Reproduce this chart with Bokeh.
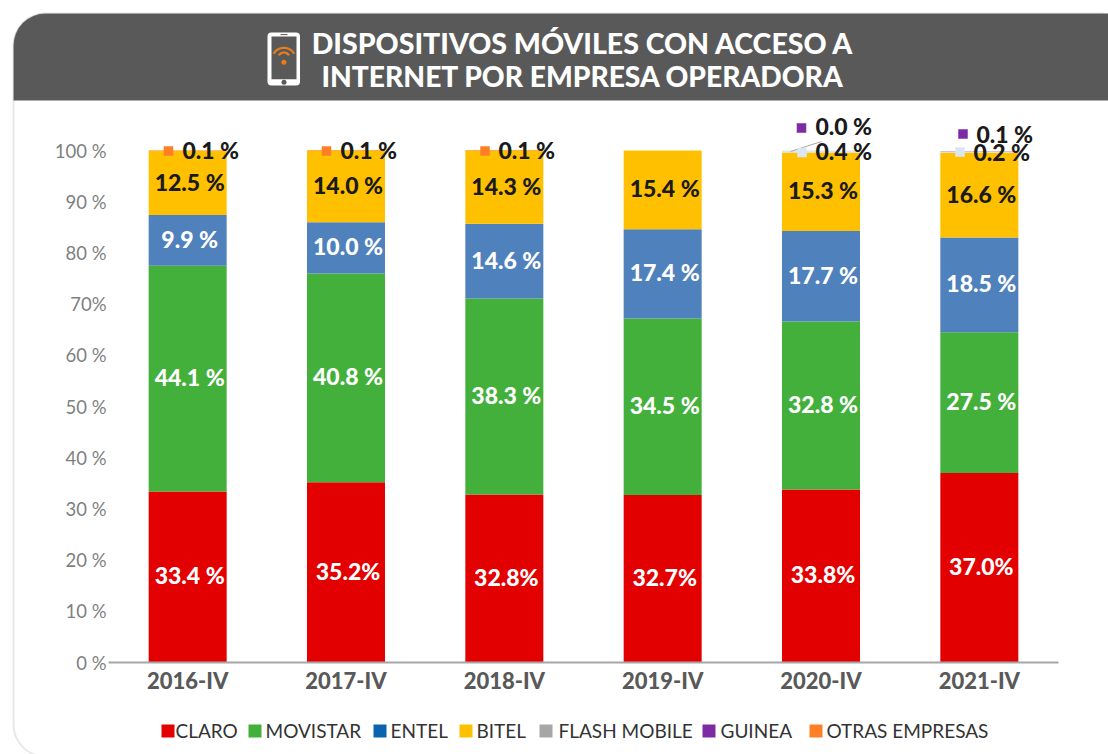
import numpy as np
from bokeh.plotting import figure
from bokeh.models import (ColumnDataSource, Range1d, BoxAnnotation, Label, FixedTicker)
from bokeh.core.properties import value
from bokeh.embed import file_html
from bokeh.resources import INLINE

periods = ["2016-IV", "2017-IV", "2018-IV", "2019-IV", "2020-IV", "2021-IV"]
claro = [33.4, 35.2, 32.8, 32.7, 33.8, 37.0]
movistar = [44.1, 40.8, 38.3, 34.5, 32.8, 27.5]
entel = [9.9, 10.0, 14.6, 17.4, 17.7, 18.5]
bitel = [12.5, 14.0, 14.3, 15.4, 15.3, 16.6]
flash_mobile = [0.0, 0.0, 0.0, 0.0, 0.4, 0.2]
guinea = [0.0, 0.0, 0.0, 0.0, 0.0, 0.1]
otras = [0.1, 0.1, 0.1, 0.0, 0.0, 0.0]

claro_labels = ["33.4 %", "35.2%", "32.8%", "32.7%", "33.8%", "37.0%"]
movistar_labels = ["44.1 %", "40.8 %", "38.3 %", "34.5 %", "32.8 %", "27.5 %"]
entel_labels = ["9.9 %", "10.0 %", "14.6 %", "17.4 %", "17.7 %", "18.5 %"]
bitel_labels = ["12.5 %", "14.0 %", "14.3 %", "15.4 %", "15.3 %", "16.6 %"]

y_ticks = [0, 10, 20, 30, 40, 50, 60, 70, 80, 90, 100]
y_tick_labels = ["0 %", "10 %", "20 %", "30 %", "40 %", "50 %", "60 %", "70%", "80 %", "90 %", "100 %"]
title_lines = ["DISPOSITIVOS MÓVILES CON ACCESO A", "INTERNET POR EMPRESA OPERADORA"]
legend_names = ["CLARO", "MOVISTAR", "ENTEL", "BITEL", "FLASH MOBILE", "GUINEA", "OTRAS EMPRESAS"]

FONT = "Lato"
HEAVY = "Lato Black"
W, H = 1108, 754
PX_PER_CAT = 950 / 6
PX_PER_PCT = 5.12

p = figure(width=W, height=H, output_backend="svg", toolbar_location=None,
           x_range=Range1d(-108 / PX_PER_CAT, 6 + 50 / PX_PER_CAT),
           y_range=Range1d(-92 / PX_PER_PCT, 662 / PX_PER_PCT),
           min_border=0)
p.outline_line_color = None
p.grid.visible = False
p.extra_x_ranges = {"px": Range1d(0, W)}
p.extra_y_ranges = {"px": Range1d(H, 0)}
PX = dict(x_range_name="px", y_range_name="px", level="overlay")


def box(l, t, r, b, **kw):
    p.add_layout(BoxAnnotation(left=l, right=r, top=t, bottom=b,
                               left_units="canvas", right_units="canvas", top_units="canvas", bottom_units="canvas", **kw))


def label(x, y, text, size, color, font=FONT, align="left", style="normal"):
    p.add_layout(Label(x=x, y=y, x_units="canvas", y_units="canvas", text=text,
                       text_font=font, text_font_size=f"{size}px", text_color=color, text_font_style=style,
                       text_align=align, text_baseline="middle"))


# panel + header
box(13, 13, 1130, 756, fill_alpha=0, line_color="#b3b3b3", line_width=2, border_radius=32)
box(13, 13, 1130, 100, fill_color="#595959", fill_alpha=1, line_color="#b3b3b3", line_width=1,
    border_radius=dict(top_left=32, top_right=0, bottom_left=0, bottom_right=0))
label(582.5, 42, title_lines[0], 28.5, "white", HEAVY, "center", "bold")
label(582.5, 75, title_lines[1], 28.2, "white", HEAVY, "center", "bold")

# phone icon
p.quad(left=[267], right=[299.5], top=[32], bottom=[85], fill_color="white", line_color=None,
       border_radius=4, **PX)
p.quad(left=[271], right=[296], top=[36], bottom=[78.7], fill_color="#595959", line_color=None, **PX)
p.quad(left=[280], right=[287], top=[33.6], bottom=[34.6], fill_color="#595959", line_color=None, **PX)
p.scatter(x=[283.5], y=[81.7], size=5, marker="circle", fill_color="#595959", line_color=None, **PX)
p.scatter(x=[283.4], y=[61.7], size=5, marker="circle", fill_color="#e87d1e", line_color=None, **PX)
ang = np.radians(np.linspace(30, 150, 25))
for R, cy in ((11.9, 59.2), (5.8, 57.8)):
    p.line(283.4 + R * np.cos(ang), cy - R * np.sin(ang), line_color="#e87d1e", line_width=2.2, **PX)

# bars
centres = (np.arange(len(periods)) + 0.5).tolist()
series = ["claro", "movistar", "entel", "bitel", "flash", "guinea", "otras"]
bar_colors = ["#e30000", "#43b03c", "#4f81bd", "#ffc000", "#dce6f1", "#b88bd0", "#ff7f27"]
data = dict(x=centres, claro=claro, movistar=movistar, entel=entel, bitel=bitel,
            flash=flash_mobile, guinea=guinea, otras=otras)
p.vbar_stack(series, x="x", width=78 / PX_PER_CAT, color=bar_colors, line_color=None,
             source=ColumnDataSource(data))

# centred value labels
base = np.zeros(len(periods))
for vals, labs, col in ((claro, claro_labels, "white"), (movistar, movistar_labels, "white"),
                        (entel, entel_labels, "white"), (bitel, bitel_labels, "#1a1a1a")):
    v = np.array(vals)
    p.text(x=centres, y=list(base + v / 2), text=labs, text_color=col, text_align="center",
           text_baseline="middle", text_font=value(HEAVY), text_font_style="bold", text_font_size="23px",
           x_offset=2, y_offset=-1.5)
    base = base + v

# small-share call-outs: (marker x, marker y, text x, text y, text, marker colour)
call = [
    (168, 150.5, 182, 149, "0.1 %", "#ff7f27"),
    (326, 150.5, 340, 149, "0.1 %", "#ff7f27"),
    (484.5, 150.5, 498, 149, "0.1 %", "#ff7f27"),
    (801, 127.5, 815, 125, "0.0 %", "#7f2aa5"),
    (801.5, 152, 815, 150, "0.4 %", "#dce6f1"),
    (962.5, 133.5, 976, 133, "0.1 %", "#7f2aa5"),
    (959.5, 151.5, 973, 151, "0.2 %", "#dce6f1"),
]
p.line([790, 821], [151, 141], line_color="#a6a6a6", line_width=1, **PX)
for mx, my, tx, ty, t, c in call:
    p.scatter(x=[mx], y=[my], size=9.5, marker="square", fill_color=c, line_color=None, **PX)
    p.text(x=[tx], y=[ty], text=[t], text_color="#1a1a1a", text_baseline="middle", text_align="left",
           text_font=value(HEAVY), text_font_style="bold", text_font_size="23px", **PX)

# axes (sit on the data, taking no side panel)
p.yaxis.fixed_location = 0
p.yaxis.ticker = FixedTicker(ticks=y_ticks)
p.yaxis.major_label_overrides = dict(zip(y_ticks, y_tick_labels))
p.yaxis.axis_line_color = None
p.yaxis.major_tick_line_color = None
p.yaxis.minor_tick_line_color = None
p.yaxis.major_label_standoff = -4
p.yaxis.major_label_text_color = "#7f7f7f"
p.yaxis.major_label_text_font = FONT
p.yaxis.major_label_text_font_size = "18.5px"
p.xaxis.fixed_location = 0
p.xaxis.bounds = (0, len(periods))
p.xaxis.ticker = FixedTicker(ticks=centres)
p.xaxis.major_label_overrides = dict(zip(centres, periods))
p.xaxis.axis_line_color = "#a6a6a6"
p.xaxis.axis_line_width = 2
p.xaxis.major_tick_line_color = None
p.xaxis.minor_tick_line_color = None
p.xaxis.major_label_standoff = -2
p.xaxis.major_label_text_color = "#595959"
p.xaxis.major_label_text_font = HEAVY
p.xaxis.major_label_text_font_style = "bold"
p.xaxis.major_label_text_font_size = "22px"

# legend
leg_colors = ["#e30000", "#43b03c", "#0b62ad", "#ffc000", "#a6a6a6", "#7f2aa5", "#ff7f27"]
leg_sq = [161, 248, 373, 459, 539, 702, 809]
leg_tx = [175, 265, 390, 476, 558, 720, 826]
for name, c, sx, tx in zip(legend_names, leg_colors, leg_sq, leg_tx):
    box(sx, 724, sx + 13, 737, fill_color=c, fill_alpha=1, line_color=None)
    label(tx, 730, name, 19, "#333333")

open("out.html", "w").write(file_html(p, INLINE))
